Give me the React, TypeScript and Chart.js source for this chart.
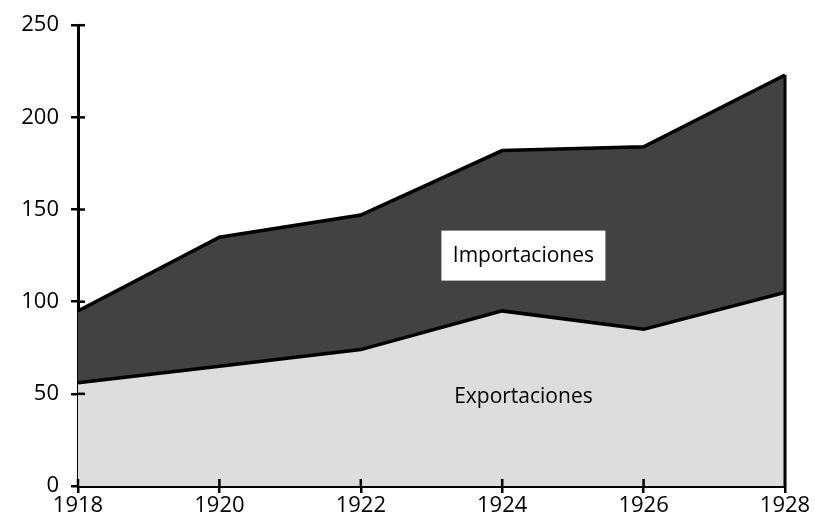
import React, { useEffect, useRef } from "react";
import { Chart, registerables } from "chart.js";

Chart.register(...registerables);

const years = [1918, 1920, 1922, 1924, 1926, 1928];
const exportaciones = [56, 65, 74, 95, 85, 105];
const importaciones = [39, 70, 73, 87, 99, 118];
const yTickValues = [0, 50, 100, 150, 200, 250];
const labelImport = "Importaciones";
const labelExport = "Exportaciones";

const FONT = "'Open Sans', 'DejaVu Sans', sans-serif";

const decorPlugin = {
  id: "decor",
  afterDraw(chart: any) {
    const ctx = chart.ctx;
    const xs = chart.scales.x;
    const ys = chart.scales.y;
    const x0 = xs.getPixelForValue(years[0]);
    const yb = ys.getPixelForValue(0);
    ctx.save();
    ctx.strokeStyle = "#000";
    ctx.lineWidth = 2.5;
    yTickValues.forEach((v) => {
      if (v === 0) return;
      const py = ys.getPixelForValue(v);
      ctx.beginPath();
      ctx.moveTo(x0, py);
      ctx.lineTo(x0 + 7, py);
      ctx.stroke();
    });
    years.forEach((yr, i) => {
      if (i === years.length - 1) return;
      const px = xs.getPixelForValue(yr);
      ctx.beginPath();
      ctx.moveTo(px, yb);
      ctx.lineTo(px, yb - 7);
      ctx.stroke();
    });
    const last = years.length - 1;
    const xr = xs.getPixelForValue(years[last]);
    ctx.lineWidth = 3;
    ctx.beginPath();
    ctx.moveTo(xr, yb);
    ctx.lineTo(xr, ys.getPixelForValue(exportaciones[last] + importaciones[last]));
    ctx.stroke();

    ctx.font = `21px ${FONT}`;
    ctx.textAlign = "center";
    ctx.textBaseline = "middle";
    const ix = xs.getPixelForValue(1924.3);
    const iy = ys.getPixelForValue(125);
    ctx.fillStyle = "#fff";
    ctx.fillRect(ix - 82, iy - 25, 164, 50);
    ctx.fillStyle = "#000";
    ctx.fillText(labelImport, ix, iy);
    const ex = xs.getPixelForValue(1924.3);
    const ey = ys.getPixelForValue(48.5);
    ctx.fillText(labelExport, ex, ey);
    ctx.restore();
  },
};

export default function App() {
  const ref = useRef<HTMLCanvasElement | null>(null);
  useEffect(() => {
    if (!ref.current) return;
    const chart = new Chart(ref.current, {
      type: "line",
      data: {
        datasets: [
          {
            label: labelExport,
            data: years.map((x, i) => ({ x, y: exportaciones[i] })),
            fill: "origin",
            backgroundColor: "#dddddd",
            borderColor: "#000",
            borderWidth: 3.5,
            pointRadius: 0,
            tension: 0,
          },
          {
            label: labelImport,
            data: years.map((x, i) => ({ x, y: importaciones[i] })),
            fill: "-1",
            backgroundColor: "#424242",
            borderColor: "#000",
            borderWidth: 3.5,
            pointRadius: 0,
            tension: 0,
          },
        ],
      },
      options: {
        responsive: false,
        animation: false,
        layout: { padding: { top: 21, right: 30, left: 0, bottom: 0 } },
        plugins: { legend: { display: false }, tooltip: { enabled: false } },
        scales: {
          x: {
            type: "linear",
            min: 1918,
            max: 1928,
            z: 1,
            afterBuildTicks: (s: any) => {
              s.ticks = years.map((v) => ({ value: v }));
            },
            afterFit: (s: any) => {
              s.height = 41;
            },
            ticks: {
              stepSize: 2,
              color: "#000",
              font: { family: FONT, size: 22 },
              padding: 0,
              maxRotation: 0,
              callback: (v: any) => String(v),
            },
            grid: {
              display: true,
              drawOnChartArea: false,
              drawTicks: true,
              tickLength: 7,
              color: "#000",
              lineWidth: 2.5,
            },
            border: { display: true, color: "#000", width: 3 },
          },
          y: {
            stacked: true,
            min: 0,
            max: 250,
            z: 1,
            afterBuildTicks: (s: any) => {
              s.ticks = yTickValues.map((v) => ({ value: v }));
            },
            afterFit: (s: any) => {
              s.width = 78;
            },
            ticks: {
              stepSize: 50,
              color: "#000",
              font: { family: FONT, size: 22 },
              padding: 12,
              callback: (v: any) => String(v),
            },
            grid: {
              display: true,
              drawOnChartArea: false,
              drawTicks: true,
              tickLength: 7,
              color: "#000",
              lineWidth: 2.5,
            },
            border: { display: true, color: "#000", width: 3 },
          },
        },
      },
      plugins: [decorPlugin],
    });
    return () => chart.destroy();
  }, []);
  return (
    <div style={{ position: "fixed", left: 0, top: 0, width: 815, height: 527, background: "#fff" }}>
      <canvas ref={ref} width={815} height={527} />
    </div>
  );
}
